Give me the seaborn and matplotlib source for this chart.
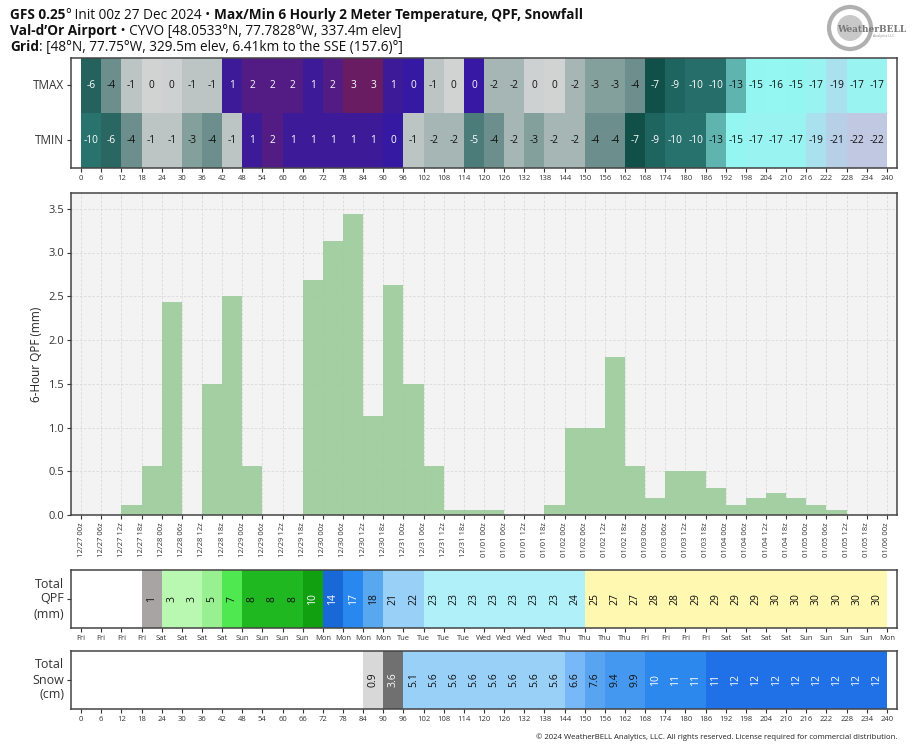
import numpy as np
import pandas as pd
import matplotlib
matplotlib.use("Agg")
import matplotlib.pyplot as plt
import seaborn as sns
from matplotlib.colors import ListedColormap, BoundaryNorm, LinearSegmentedColormap
from matplotlib.patches import Circle

nan = np.nan

# ---------------- data ----------------
hour_ticks = list(range(0, 241, 6))
valid_times = pd.date_range("2024-12-27 00:00", periods=41, freq="6h")
date_labels = [t.strftime("%m/%d %Hz") for t in valid_times]
day_labels = [t.strftime("%a") for t in valid_times]

tmax_c = [-6.2, -4, -1, -0.2, -0.3, -1, -1, 1, 2, 2, 2, 1, 2, 3, 3, 1, 0.3, -1, -0.2, 0.2,
          -2, -2, -0.3, -0.2, -2, -3, -3, -4, -7, -9, -10, -10, -13, -15, -16, -15, -17, -19, -17, -17]
tmin_c = [-10.4, -6, -4, -1, -1, -3, -4, -1, 1, 2, 1, 1, 1, 1, 1, 0.3, -1, -2, -2, -5,
          -4, -2, -3, -2, -2, -4, -4, -7, -9, -10.3, -10.3, -13, -15, -17, -17, -17, -19, -21, -22, -22]

qpf_6h_mm = [0, 0, 0.12, 0.56, 2.43, 0, 1.5, 2.5, 0.56, 0,
             0, 2.69, 3.13, 3.44, 1.13, 2.63, 1.5, 0.56, 0.06, 0.06,
             0.06, 0, 0, 0.12, 1.0, 1.0, 1.81, 0.56, 0.19, 0.5,
             0.5, 0.31, 0.12, 0.19, 0.25, 0.19, 0.12, 0.06, 0, 0]

qpf_total_mm = [nan, nan, nan, 1, 3, 3, 5, 7, 8, 8,
                8, 10, 14, 17, 18, 21, 22, 23, 23, 23,
                23, 23, 23, 23, 24, 25, 27, 27, 28, 28,
                29, 29, 29, 29, 30, 30, 30, 30, 30, 30]

snow_total_cm = [nan] * 14 + [0.9, 3.6, 5.1, 5.6, 5.6, 5.6, 5.6, 5.6, 5.6, 5.6,
                              6.6, 7.6, 9.4, 9.9, 10, 10.8, 11, 11.4,
                              12, 12, 12, 12, 12, 12, 12, 12]

# ---------------- styles ----------------
W, H = 914, 750
sns.set_style("ticks")
plt.rcParams["font.family"] = ["Open Sans", "DejaVu Sans"]
plt.rcParams["axes.edgecolor"] = "#444444"
plt.rcParams["xtick.color"] = "#333333"
plt.rcParams["ytick.color"] = "#333333"

temp_anchors = [
    (-25, "#c8c0e0"), (-22, "#c0c8e2"), (-20, "#b0d8ec"), (-18, "#a2eaf0"),
    (-16.5, "#94f8f2"), (-14.6, "#94f6f0"), (-13, "#60b4b0"), (-11, "#2e7a74"),
    (-10, "#266e6a"), (-8, "#165a54"), (-7, "#105048"), (-6, "#2a6662"),
    (-5, "#4c7c7a"), (-4, "#6c8e8c"), (-3, "#84a09c"), (-2, "#a6b6b4"),
    (-1, "#bcc4c4"), (-0.01, "#d6d6d6"), (0.0, "#3418a8"), (1, "#3c1a98"),
    (2, "#521c84"), (3, "#6a1c62"), (5, "#901c40"),
]
tvmin, tvmax = -25, 5
temp_cmap = LinearSegmentedColormap.from_list(
    "wxbell_t", [((v - tvmin) / (tvmax - tvmin), c) for v, c in temp_anchors], N=6000)

qpf_bounds = [0.5, 2, 4, 6, 7.5, 9, 12, 15.5, 17.5, 20, 22.5, 24.5, 40]
qpf_colors = ["#a8a4a4", "#b8f8b0", "#98f090", "#50e850", "#20b820", "#10a010",
              "#1868d8", "#2888f0", "#58a8f0", "#98d0f8", "#b0f0f8", "#fff8b0"]
snow_bounds = [0.5, 2, 5, 6, 7, 9, 10, 11.2, 20]
snow_colors = ["#d8d8d8", "#707070", "#98d0f8", "#78b8f8", "#58a4f0", "#4498f0",
               "#2c88ec", "#2070e8"]


def int_label(v):
    if np.isnan(v):
        return ""
    r = int(np.round(v))
    return str(0 if r == 0 else r)


def snow_label(v):
    if np.isnan(v):
        return ""
    return f"{v:.0f}" if v >= 10 else f"{v:.1f}"


fig = plt.figure(figsize=(W / 100, H / 100), dpi=100)
L = 71 / W
WD = (897 - 71) / W

ax_t = fig.add_axes([L, 1 - 168 / H, WD, 110 / H])
ax_b = fig.add_axes([L, 1 - 515 / H, WD, 322 / H])
ax_q = fig.add_axes([L, 1 - 628 / H, WD, 58 / H])
ax_s = fig.add_axes([L, 1 - 709 / H, WD, 58 / H])


def frame(ax):
    for s in ax.spines.values():
        s.set_visible(True)
        s.set_color("#444444")
        s.set_linewidth(1.1)


# ---- temperature heatmap ----
temp_grid = np.array([tmax_c, tmin_c], dtype=float)
temp_df = pd.DataFrame(temp_grid, index=["TMAX", "TMIN"], columns=range(40))
temp_labels = np.array([[int_label(v) for v in row] for row in temp_grid])
sns.heatmap(temp_df, ax=ax_t, cmap=temp_cmap, vmin=tvmin, vmax=tvmax, cbar=False,
            annot=temp_labels, fmt="", annot_kws={"fontsize": 7.3}, linewidths=0)
for t in ax_t.texts:
    x, y = t.get_position()
    v = temp_grid[int(y), int(x)]
    t.set_color("white" if (v > 0 or (-12 <= v <= -4.5)) else "#111111")
ax_t.set_xlim(-0.5, 40.5)
ax_t.set_xticks(np.arange(41))
ax_t.set_xticklabels(hour_ticks, fontsize=5.5, rotation=0)
ax_t.set_yticks([0.5, 1.5])
ax_t.set_yticklabels(["TMAX", "TMIN"], rotation=0, fontsize=8.5)
ax_t.tick_params(length=3, width=0.8, pad=2)
ax_t.set_xlabel("")
ax_t.set_ylabel("")
frame(ax_t)

# ---- 6-hour QPF bars ----
bar_df = pd.DataFrame({"period": np.arange(40), "qpf": qpf_6h_mm})
ax_b.set_facecolor("#f3f3f3")
ax_b.set_axisbelow(True)
sns.barplot(data=bar_df, x="period", y="qpf", ax=ax_b, color="#9ccc9c", width=1.0,
            saturation=1, alpha=0.92, linewidth=0, errorbar=None)
ax_b.set_xticks(np.arange(41) - 0.5)
ax_b.set_xticklabels(date_labels, rotation=90, fontsize=5.5)
ax_b.set_xlim(-1, 40)
ax_b.set_ylim(0, 3.68)
yt = np.arange(0, 3.51, 0.5)
ax_b.set_yticks(yt)
ax_b.set_yticklabels([f"{v:.1f}" for v in yt], fontsize=8)
ax_b.grid(True, linestyle=(0, (3, 2)), color="#d9d9d9", linewidth=0.6)
ax_b.set_ylabel("6-Hour QPF (mm)", fontsize=8.5)
ax_b.set_xlabel("")
ax_b.tick_params(length=3, width=0.8, pad=2)
frame(ax_b)

# ---- total QPF strip ----
qpf_arr = np.array([qpf_total_mm], dtype=float)
qpf_lab = np.array([[int_label(v) for v in qpf_arr[0]]])
sns.heatmap(pd.DataFrame(qpf_arr, index=["Total\nQPF\n(mm)"]), ax=ax_q,
            cmap=ListedColormap(qpf_colors), norm=BoundaryNorm(qpf_bounds, len(qpf_colors)),
            cbar=False, annot=qpf_lab, fmt="", annot_kws={"rotation": 90, "fontsize": 7.5})
for t in ax_q.texts:
    x, y = t.get_position()
    v = qpf_arr[0, int(x)]
    t.set_color("white" if 9 <= v <= 17.2 else "#111111")
ax_q.set_xlim(-0.5, 40.5)
ax_q.set_xticks(np.arange(41))
ax_q.set_xticklabels(day_labels, fontsize=5.5, rotation=0)
ax_q.set_yticks([0.5])
ax_q.set_yticklabels(["Total\nQPF\n(mm)"], rotation=0, fontsize=9)
ax_q.tick_params(length=3, width=0.8, pad=2)
ax_q.set_xlabel("")
ax_q.set_ylabel("")
frame(ax_q)

# ---- total snow strip ----
snow_arr = np.array([snow_total_cm], dtype=float)
snow_lab = np.array([[snow_label(v) for v in snow_arr[0]]])
sns.heatmap(pd.DataFrame(snow_arr, index=["Total\nSnow\n(cm)"]), ax=ax_s,
            cmap=ListedColormap(snow_colors), norm=BoundaryNorm(snow_bounds, len(snow_colors)),
            cbar=False, annot=snow_lab, fmt="", annot_kws={"rotation": 90, "fontsize": 7.5})
for t in ax_s.texts:
    x, y = t.get_position()
    v = snow_arr[0, int(x)]
    t.set_color("white" if (2 <= v < 5 or v >= 10) else "#111111")
ax_s.set_xlim(-0.5, 40.5)
ax_s.set_xticks(np.arange(41))
ax_s.set_xticklabels(hour_ticks, fontsize=5.5, rotation=0)
ax_s.set_yticks([0.5])
ax_s.set_yticklabels(["Total\nSnow\n(cm)"], rotation=0, fontsize=9)
ax_s.tick_params(length=3, width=0.8, pad=2)
ax_s.set_xlabel("")
ax_s.set_ylabel("")
frame(ax_s)

# ---- header ----
renderer = fig.canvas.get_renderer()


def pieces(x_px, y_px, parts, size):
    x = x_px
    for s, w in parts:
        t = fig.text(x / W, 1 - y_px / H, s, fontsize=size, fontweight=w,
                     ha="left", va="baseline", color="#111111")
        x += t.get_window_extent(renderer=renderer).width


hs = 9.8
pieces(10, 19, [("GFS 0.25", "bold"), ("°", "normal"), (" Init 00z 27 Dec 2024 • ", "normal"),
                ("Max/Min 6 Hourly 2 Meter Temperature, QPF, Snowfall", "bold")], hs)
pieces(10, 35, [("Val-d\u2019Or Airport", "bold"),
                (" • CYVO [48.0533°N, 77.7828°W, 337.4m elev]", "normal")], hs)
pieces(10, 51, [("Grid", "bold"),
                (": [48°N, 77.75°W, 329.5m elev, 6.41km to the SSE (157.6)°]", "normal")], hs)

# ---- logo ----
ax_logo = fig.add_axes([812 / W, 1 - 56 / H, 85 / W, 52 / H])
ax_logo.set_xlim(0, 85)
ax_logo.set_ylim(0, 52)
ax_logo.set_aspect("equal")
ax_logo.axis("off")
ax_logo.add_patch(Circle((38, 28), 21, fill=False, ec="#b0b0b0", lw=3))
ax_logo.add_patch(Circle((38, 28), 13, fill=True, fc="#c8c8c8", ec="none"))
ax_logo.text(60, 27, "WeatherBELL", fontsize=6.5, family="DejaVu Serif",
             ha="center", va="center", color="#777777", fontweight="bold")
ax_logo.text(72, 20, "Analytics LLC", fontsize=2.5, ha="center", va="center", color="#888888")

# ---- footer ----
fig.text(897 / W, 1 - 737 / H,
         "© 2024 WeatherBELL Analytics, LLC. All rights reserved. License required for commercial distribution.",
         fontsize=5.6, ha="right", va="center", color="#222222")

fig.savefig("out.png", dpi=100)
